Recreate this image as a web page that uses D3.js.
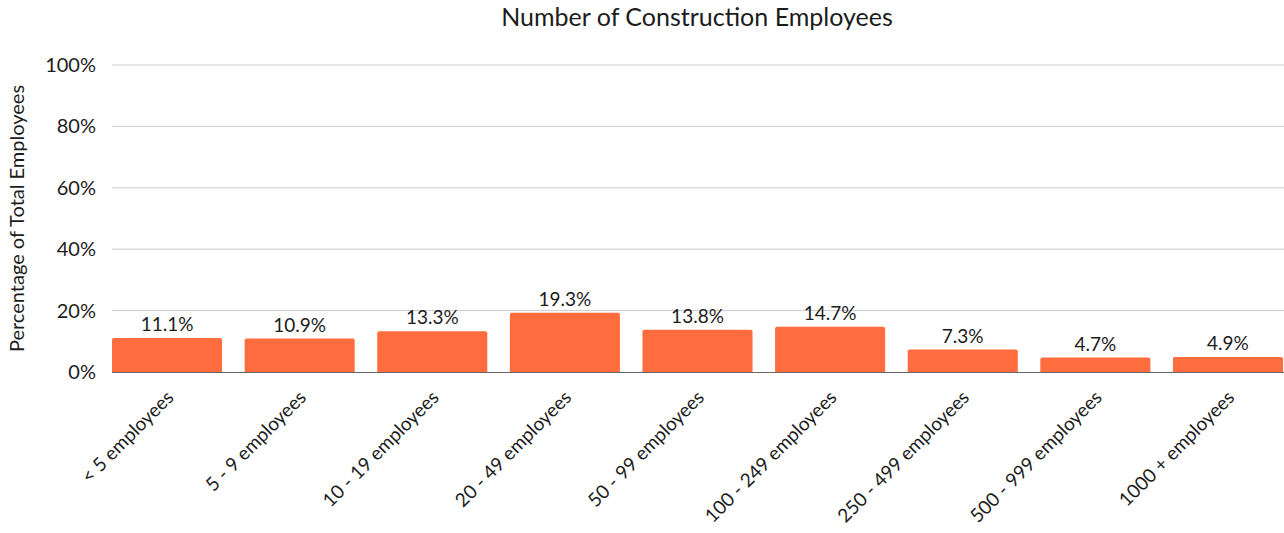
<!DOCTYPE html>
<html lang="en">
<head>
  <meta charset="UTF-8">
  <title>Number of Construction Employees</title>
  <script src="https://d3js.org/d3.v7.min.js"></script>
  <style>
    body { margin: 0; background: #fff; }
    text { font-family: Lato, "Noto Sans", sans-serif; fill: #1c1c1c; }
  </style>
</head>
<body>
  <svg id="chart"></svg>
  <script>
    const categories = ["< 5 employees", "5 - 9 employees", "10 - 19 employees", "20 - 49 employees",
      "50 - 99 employees", "100 - 249 employees", "250 - 499 employees", "500 - 999 employees", "1000 + employees"];
    const values = [11.1, 10.9, 13.3, 19.3, 13.8, 14.7, 7.3, 4.7, 4.9];
    const yTicks = [0, 20, 40, 60, 80, 100];

    const width = 1284, height = 533;
    const margin = { top: 65, right: 1, bottom: 161, left: 112 };

    const svg = d3.select("#chart")
      .attr("width", width)
      .attr("height", height);

    const x = d3.scaleBand()
      .domain(categories)
      .range([margin.left, width - margin.right])
      .paddingInner(0.17)
      .paddingOuter(0);

    const y = d3.scaleLinear()
      .domain([0, 100])
      .range([height - margin.bottom, margin.top]);

    // gridlines
    svg.append("g")
      .selectAll("line")
      .data(yTicks.filter(d => d > 0))
      .enter()
      .append("line")
      .attr("x1", margin.left)
      .attr("x2", width)
      .attr("y1", d => y(d))
      .attr("y2", d => y(d))
      .attr("stroke", "#cccccc")
      .attr("stroke-width", 1);

    // y tick labels
    const yAxis = d3.axisLeft(y).tickValues(yTicks).tickFormat(d => d + "%").tickSize(0).tickPadding(16);
    const gy = svg.append("g")
      .attr("transform", `translate(${margin.left},0)`)
      .call(yAxis);
    gy.select(".domain").remove();
    gy.selectAll("text").attr("font-size", 20).attr("fill", "#1c1c1c").attr("font-family", "Lato, sans-serif");

    // bars (rounded top corners)
    const r = 2;
    svg.append("g")
      .selectAll("path")
      .data(values)
      .enter()
      .append("path")
      .attr("fill", "#ff6c3e")
      .attr("d", (d, i) => {
        const x0 = x(categories[i]), w = x.bandwidth();
        const y0 = y(d), yb = y(0);
        return `M${x0},${yb}V${y0 + r}Q${x0},${y0} ${x0 + r},${y0}H${x0 + w - r}Q${x0 + w},${y0} ${x0 + w},${y0 + r}V${yb}Z`;
      });

    // baseline
    svg.append("line")
      .attr("x1", margin.left)
      .attr("x2", width)
      .attr("y1", y(0) + 0.5)
      .attr("y2", y(0) + 0.5)
      .attr("stroke", "#666");

    // value labels
    svg.append("g")
      .selectAll("text")
      .data(values)
      .enter()
      .append("text")
      .attr("x", (d, i) => x(categories[i]) + x.bandwidth() / 2)
      .attr("y", d => y(d) - 7)
      .attr("text-anchor", "middle")
      .attr("font-size", 19)
      .text(d => d.toFixed(1) + "%");

    // x labels rotated
    svg.append("g")
      .selectAll("text")
      .data(categories)
      .enter()
      .append("text")
      .attr("transform", d => `translate(${x(d) + x.bandwidth() / 2 + 3},${y(0) + 22}) rotate(-45)`)
      .attr("text-anchor", "end")
      .attr("dy", "0.35em")
      .attr("font-size", 19)
      .text(d => d);

    // y axis title
    svg.append("text")
      .attr("transform", `translate(24,${(y(0) + y(100)) / 2}) rotate(-90)`)
      .attr("text-anchor", "middle")
      .attr("font-size", 20)
      .text("Percentage of Total Employees");

    // title
    svg.append("text")
      .attr("x", 697)
      .attr("y", 26)
      .attr("text-anchor", "middle")
      .attr("font-size", 25)
      .text("Number of Construction Employees");
  </script>
</body>
</html>
